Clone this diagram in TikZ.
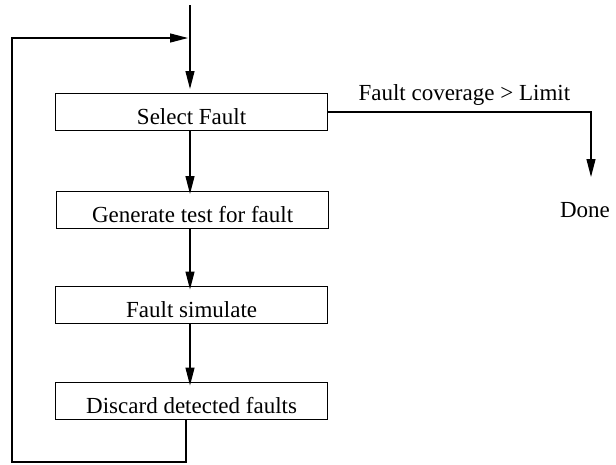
\documentclass[tikz,border=0pt]{standalone}
\usepackage{fontspec}
\setmainfont{Liberation Serif}
\usetikzlibrary{arrows.meta}
\begin{document}
\begin{tikzpicture}[x=1pt,y=-1pt,
  every node/.style={font=\fontsize{23}{27}\selectfont},
  stepbox/.style={draw,line width=1.2pt,minimum width=272pt,inner sep=0pt,
     text height=31pt,text depth=6pt,anchor=north west},
  conn/.style={line width=1.2pt},
  arr/.style={conn,-{Triangle[length=18pt,width=9pt]}}]
\useasboundingbox (0,0) rectangle (616,464);
\node[stepbox] (sel) at (55,93) {Select Fault};
\node[stepbox] (gen) at (56,190.5) {Generate test for fault};
\node[stepbox] (sim) at (55,286) {Fault simulate};
\node[stepbox] (dis) at (55,382) {Discard detected faults};
\coordinate (top) at (190,5);
\coordinate (join) at (190,38);
\coordinate (selin) at (190,89);
\coordinate (bl) at (12,462);
\coordinate (tl) at (12,38);
\coordinate (br) at (186,462);
\coordinate (rc) at (591,112);
\coordinate (doneend) at (591,177);
\node[anchor=base] (done) at (585,217) {Done};
\node[anchor=base west] (lim) at (355,100) {Fault coverage > Limit};
\draw[conn] (top) -- (join);
\draw[arr] (join) -- (selin);
\draw[arr] (sel.south -| 190,0) -- ([yshift=-3.5pt]gen.north -| 190,0);
\draw[arr] (gen.south -| 190,0) -- ([yshift=-3.5pt]sim.north -| 190,0);
\draw[arr] (sim.south -| 190,0) -- ([yshift=-3.5pt]dis.north -| 190,0);
\draw[arr] (dis.south -| br) -- (br) -- (bl) -- (tl) -- ([xshift=-2pt]join);
\draw[arr] (sel.east |- rc) -- (rc) -- (doneend);
\end{tikzpicture}
\end{document}
